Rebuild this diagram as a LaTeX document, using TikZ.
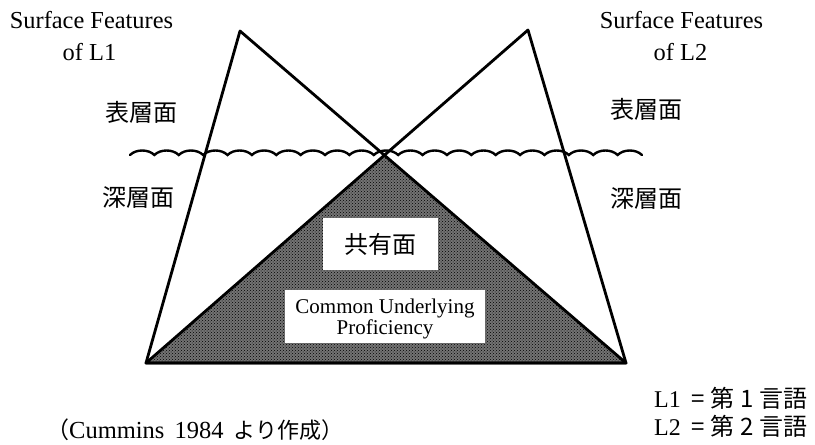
\documentclass[tikz,border=0pt]{standalone}
\usepackage{fontspec}
\setmainfont{Liberation Serif}
\newfontfamily\jp{Noto Sans CJK JP}
\usetikzlibrary{patterns}
\tikzset{
  edge/.style={line width=2.8pt, line join=round, line cap=round},
  wavy/.style={line width=2.4pt, line cap=round},
  lab/.style={inner sep=0pt, font=\fontsize{24.4}{28}\selectfont},
  jplab/.style={inner sep=0pt, font=\jp\fontsize{24}{28}\selectfont},
  legend/.style={inner sep=0pt, font=\fontsize{24}{26}\selectfont},
  whitebox/.style={fill=white, inner sep=0pt},
}
\newcommand{\jplegend}{\jp\fontsize{24}{28}\selectfont}
\begin{document}
\begin{tikzpicture}[x=1pt,y=-1pt]
\useasboundingbox (0,0) rectangle (815,445);
% key points
\coordinate (A1) at (240,31);
\coordinate (A2) at (528,30);
\coordinate (BL) at (146,363);
\coordinate (BR) at (626,363);
\coordinate (X) at (385,155);
% shaded common triangle
\fill[black!55] (X) -- (BL) -- (BR) -- cycle;
\fill[pattern=crosshatch dots, pattern color=black] (X) -- (BL) -- (BR) -- cycle;
% white label boxes
\node[whitebox, minimum width=115pt, minimum height=52pt] (kyo) at (380,244) {};
\node[jplab] (kyotxt) at (kyo.center) {共有面};
\node[whitebox, minimum width=200pt, minimum height=53pt] (cup) at (385,316.5) {};
\node[inner sep=0pt, align=center, font=\fontsize{21}{19}\selectfont] (cuptxt) at (385,319) {Common Underlying\\Proficiency};
% triangles
\draw[edge] (A1) -- (BL) -- (BR) -- cycle;
\draw[edge] (A2) -- (BR) -- (BL) -- cycle;
% wave line (surface level)
\draw[wavy] (130,155) foreach \i in {0,...,20} { .. controls +(6,-6) and +(-6,-6) .. ++(24.38,0) };
% labels
\node[lab, anchor=base] (sf1) at (91.5,28) {Surface Features};
\node[lab, anchor=base] (of1) at (89.5,60) {of L1};
\node[lab, anchor=base] (sf2) at (681.5,28) {Surface Features};
\node[lab, anchor=base] (of2) at (680.5,60) {of L2};
\node[jplab] (hyo1) at (141,112) {表層面};
\node[jplab] (shin1) at (138,198) {深層面};
\node[jplab] (hyo2) at (646,109) {表層面};
\node[jplab] (shin2) at (646,199) {深層面};
\node[legend, anchor=base west] (l1) at (654,407) {L1\hspace{11pt}{\jplegend =\hspace{5pt}第\hspace{6pt}1\hspace{6pt}言語}};
\node[legend, anchor=base west] (l2) at (654,435) {L2\hspace{11pt}{\jplegend =\hspace{5pt}第\hspace{6pt}2\hspace{6pt}言語}};
\node[inner sep=0pt, anchor=base west, font=\fontsize{24.5}{28}\selectfont] (src) at (46,438) {{\jp\fontsize{23}{28}\selectfont （}Cummins\hspace{10pt}1984\hspace{10pt}{\jp\fontsize{22}{28}\selectfont より作成）}};
\end{tikzpicture}
\end{document}
